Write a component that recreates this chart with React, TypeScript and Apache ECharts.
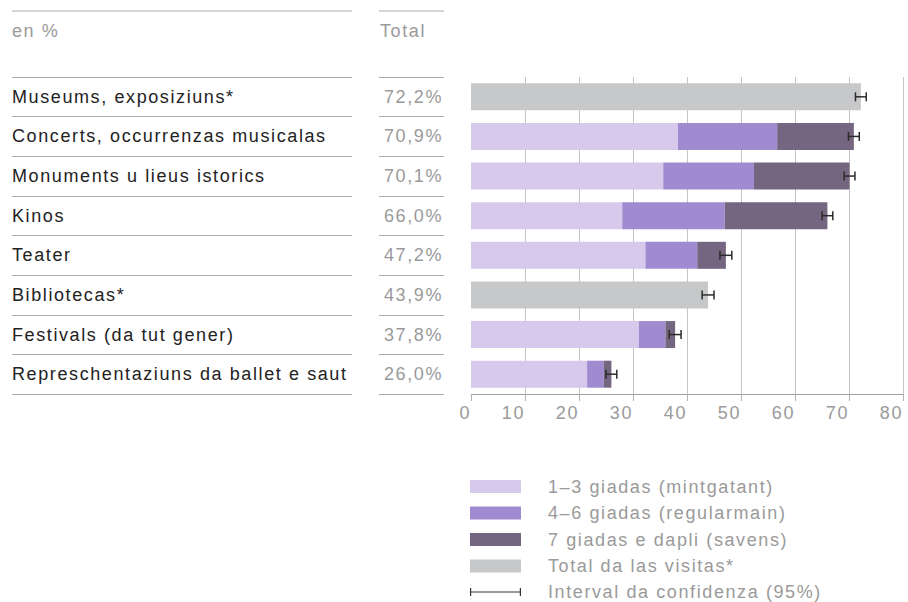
import React, { useEffect, useRef } from "react";
import * as echarts from "echarts";

const categories = [
  "Museums, exposiziuns*",
  "Concerts, occurrenzas musicalas",
  "Monuments u lieus istorics",
  "Kinos",
  "Teater",
  "Bibliotecas*",
  "Festivals (da tut gener)",
  "Represchentaziuns da ballet e saut",
];
const totals = [72.2, 70.9, 70.1, 66.0, 47.2, 43.9, 37.8, 26.0];
const seldom = [null, 38.3, 35.6, 28.0, 32.3, null, 31.1, 21.5];
const regular = [null, 18.4, 16.8, 19.0, 9.6, null, 4.9, 3.1];
const often = [null, 14.2, 17.7, 19.0, 5.3, null, 1.8, 1.4];
const totalOnly = [72.2, null, null, null, null, 43.9, null, null];
const ciHalf = [1.0, 1.0, 1.0, 1.0, 1.1, 1.1, 1.1, 1.0];
const xTicks = [0, 10, 20, 30, 40, 50, 60, 70, 80];

const seriesNames = [
  "1–3 giadas (mintgatant)",
  "4–6 giadas (regularmain)",
  "7 giadas e dapli (savens)",
  "Total da las visitas*",
];
const ciName = "Interval da confidenza (95%)";
const headerLeft = "en %";
const headerRight = "Total";

const FONT = "'Liberation Sans', Arial, Helvetica, sans-serif";
const GRAY_TEXT = "#9a9a9a";
const RULE = "#ababab";
const colors = ["#d7c9eb", "#a18bd0", "#746680", "#c7c8ca"];

export default function App() {
  const ref = useRef<HTMLDivElement>(null);

  useEffect(() => {
    if (!ref.current) return;
    const chart = echarts.init(ref.current, null, { renderer: "svg" });
    const pctLabels = totals.map((v) => v.toFixed(1).replace(".", ",") + "%");
    const ciData = totals.map((t, i) => [i, t - ciHalf[i], t + ciHalf[i]]);

    const gridTop = 77;
    const gridHeight = 317;

    const barSeries = [seldom, regular, often, totalOnly].map((d, i) => ({
      name: seriesNames[i],
      type: "bar",
      stack: "s",
      xAxisIndex: 0,
      yAxisIndex: 0,
      barWidth: 27,
      data: d,
      itemStyle: { color: colors[i] },
      emphasis: { disabled: true },
    }));

    const option: any = {
      animation: false,
      backgroundColor: "#ffffff",
      textStyle: { fontFamily: FONT },
      grid: [
        { left: 471, top: gridTop, width: 432, height: gridHeight },
        { left: 12, top: gridTop, width: 340, height: gridHeight },
        { left: 379, top: gridTop, width: 65, height: gridHeight },
      ],
      xAxis: [
        {
          gridIndex: 0,
          type: "value",
          min: xTicks[0],
          max: xTicks[xTicks.length - 1],
          interval: 10,
          axisLine: { show: true, lineStyle: { color: "#a0a0a0", width: 1 } },
          axisTick: { show: true, length: 7, lineStyle: { color: "#b4b4b4" } },
          splitLine: {
            show: true,
            showMinLine: false,
            lineStyle: { color: "#c4c4c4", width: 1 },
          },
          axisLabel: {
            color: GRAY_TEXT,
            fontSize: 18,
            fontFamily: FONT,
            align: "right",
            margin: 10,
          },
        },
        { gridIndex: 1, type: "value", show: false, min: 0, max: 1 },
        { gridIndex: 2, type: "value", show: false, min: 0, max: 1 },
      ],
      yAxis: [
        {
          gridIndex: 0,
          type: "category",
          data: categories,
          inverse: true,
          axisLine: { show: false },
          axisTick: { show: false },
          axisLabel: { show: false },
          splitLine: { show: false },
        },
        {
          gridIndex: 1,
          type: "category",
          data: categories,
          inverse: true,
          axisLine: { show: false },
          axisTick: { show: false },
          splitLine: { show: true, interval: 0, lineStyle: { color: RULE, width: 1 } },
          axisLabel: {
            interval: 0,
            align: "left",
            margin: 0,
            color: "#222222",
            fontSize: 18,
            fontFamily: FONT,
          },
        },
        {
          gridIndex: 2,
          type: "category",
          data: pctLabels,
          inverse: true,
          axisLine: { show: false },
          axisTick: { show: false },
          splitLine: { show: true, interval: 0, lineStyle: { color: RULE, width: 1 } },
          axisLabel: {
            interval: 0,
            align: "right",
            margin: -64,
            color: GRAY_TEXT,
            fontSize: 18,
            fontFamily: FONT,
          },
        },
      ],
      legend: [
        {
          orient: "vertical",
          left: 470,
          top: 477.5,
          padding: 0,
          itemWidth: 51,
          itemHeight: 13,
          itemGap: 8.5,
          icon: "rect",
          selectedMode: false,
          data: seriesNames,
          textStyle: {
            color: GRAY_TEXT,
            fontSize: 18,
            lineHeight: 18,
            fontFamily: FONT,
            padding: [0, 0, 0, 22],
          },
        },
        {
          orient: "vertical",
          left: 470,
          top: 583,
          padding: 0,
          itemWidth: 51,
          itemHeight: 8,
          selectedMode: false,
          data: [
            {
              name: ciName,
              icon: "path://M0,0h1.2v8h-1.2z M0,3.4h51v1.2h-51z M49.8,0h1.2v8h-1.2z",
              itemStyle: { color: "#333333" },
            },
          ],
          textStyle: {
            color: GRAY_TEXT,
            fontSize: 18,
            lineHeight: 18,
            fontFamily: FONT,
            padding: [0, 0, 0, 22],
          },
        },
      ],
      graphic: [
        { type: "line", shape: { x1: 12, y1: 11, x2: 352, y2: 11 }, style: { stroke: RULE, lineWidth: 1 } },
        { type: "line", shape: { x1: 379, y1: 11, x2: 444, y2: 11 }, style: { stroke: RULE, lineWidth: 1 } },
        {
          type: "text",
          x: 12,
          y: 31,
          style: { text: headerLeft, fill: GRAY_TEXT, font: `18px ${FONT}`, verticalAlign: "middle" },
        },
        {
          type: "text",
          x: 380,
          y: 31,
          style: { text: headerRight, fill: GRAY_TEXT, font: `18px ${FONT}`, verticalAlign: "middle" },
        },
      ],
      series: [
        ...barSeries,
        {
          name: ciName,
          type: "custom",
          xAxisIndex: 0,
          yAxisIndex: 0,
          encode: { x: [1, 2], y: 0 },
          data: ciData,
          z: 5,
          itemStyle: { color: "#333333" },
          renderItem: (params: any, api: any) => {
            const cat = api.value(0);
            const p1 = api.coord([api.value(1), cat]);
            const p2 = api.coord([api.value(2), cat]);
            const h = 4.5;
            const st = { stroke: "#2b2b2b", lineWidth: 1.5, fill: "none" };
            return {
              type: "group",
              children: [
                { type: "line", shape: { x1: p1[0], y1: p1[1], x2: p2[0], y2: p2[1] }, style: st },
                { type: "line", shape: { x1: p1[0], y1: p1[1] - h, x2: p1[0], y2: p1[1] + h }, style: st },
                { type: "line", shape: { x1: p2[0], y1: p2[1] - h, x2: p2[0], y2: p2[1] + h }, style: st },
              ],
            };
          },
        },
      ],
    };

    chart.setOption(option);
    return () => chart.dispose();
  }, []);

  return (
    <>
      <style>{".chart-box text{letter-spacing:1.6px}"}</style>
      <div
        ref={ref}
        className="chart-box"
        style={{ position: "fixed", left: 0, top: 0, width: 908, height: 602 }}
      />
    </>
  );
}
